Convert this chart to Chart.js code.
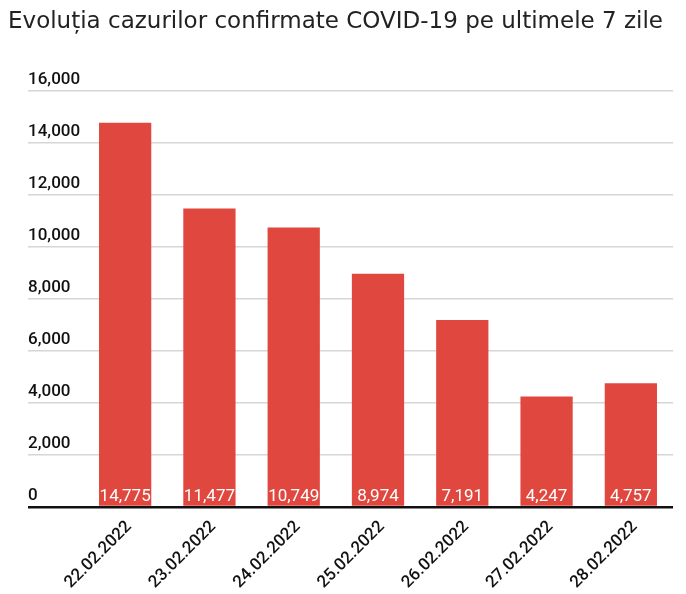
<!DOCTYPE html>
<html lang="ro">
<head>
    <meta charset="UTF-8">
    <title>Evoluția cazurilor confirmate COVID-19</title>
    <script src="https://cdn.jsdelivr.net/npm/chart.js"></script>
    <style>
        html, body { margin: 0; padding: 0; background: #fff; }
        #wrap { position: relative; width: 686px; height: 594px; }
        #titlu {
            position: absolute; left: 8px; top: 6px; margin: 0;
            font: normal 23px/28px 'DejaVu Sans', sans-serif;
            color: #222; white-space: nowrap;
        }
    </style>
</head>
<body>
    <div id="wrap">
        <h1 id="titlu">Evoluția cazurilor confirmate COVID-19 pe ultimele 7 zile</h1>
        <canvas id="barChart"></canvas>
    </div>

    <script>
        const zile = ['22.02.2022', '23.02.2022', '24.02.2022', '25.02.2022', '26.02.2022', '27.02.2022', '28.02.2022'];
        const cazuri = [14775, 11477, 10749, 8974, 7191, 4247, 4757];
        const yTicks = [0, 2000, 4000, 6000, 8000, 10000, 12000, 14000, 16000];

        const fmt = v => v.toLocaleString('en-US');

        // white value labels at the foot of each bar
        const valueLabels = {
            id: 'valueLabels',
            afterDatasetsDraw(chart) {
                const ctx = chart.ctx;
                const meta = chart.getDatasetMeta(0);
                ctx.save();
                ctx.font = '17px Roboto';
                ctx.fillStyle = '#ffffff';
                ctx.textAlign = 'center';
                ctx.textBaseline = 'alphabetic';
                meta.data.forEach((bar, i) => {
                    ctx.fillText(fmt(cazuri[i]), bar.x, bar.base - 5);
                });
                ctx.restore();
            }
        };

        const ctx = document.getElementById('barChart').getContext('2d');
        new Chart(ctx, {
            type: 'bar',
            data: {
                labels: zile,
                datasets: [{
                    label: 'Cazuri confirmate',
                    data: cazuri,
                    backgroundColor: '#e0483f',
                    categoryPercentage: 1,
                    barPercentage: 0.62
                }]
            },
            options: {
                responsive: true,
                maintainAspectRatio: false,
                animation: false,
                layout: { padding: { left: 28, right: 13, top: 91, bottom: 0 } },
                plugins: {
                    legend: { display: false },
                    tooltip: { enabled: false },
                    title: { display: false }
                },
                scales: {
                    x: {
                        grid: { display: false },
                        border: { display: false },
                        ticks: {
                            color: '#111',
                            font: { family: 'Roboto', size: 17, weight: 500 },
                            maxRotation: 45,
                            minRotation: 45,
                            padding: 2,
                            labelOffset: 4
                        },
                        afterFit(scale) { scale.height = 87; }
                    },
                    y: {
                        min: 0,
                        max: 16000,
                        afterBuildTicks(scale) {
                            scale.ticks = yTicks.map(v => ({ value: v }));
                        },
                        afterFit(scale) { scale.width = 55; },
                        border: { display: false },
                        grid: {
                            drawTicks: true,
                            tickLength: 55,
                            color: c => c.tick && c.tick.value === 0 ? '#111' : '#d6d6d6',
                            lineWidth: c => c.tick && c.tick.value === 0 ? 2.5 : 1.5
                        },
                        ticks: {
                            color: '#111',
                            font: { family: 'Roboto', size: 17, weight: 500 },
                            crossAlign: 'far',
                            labelOffset: -11,
                            callback: v => fmt(v)
                        }
                    }
                }
            },
            plugins: [valueLabels]
        });
    </script>
</body>
</html>
